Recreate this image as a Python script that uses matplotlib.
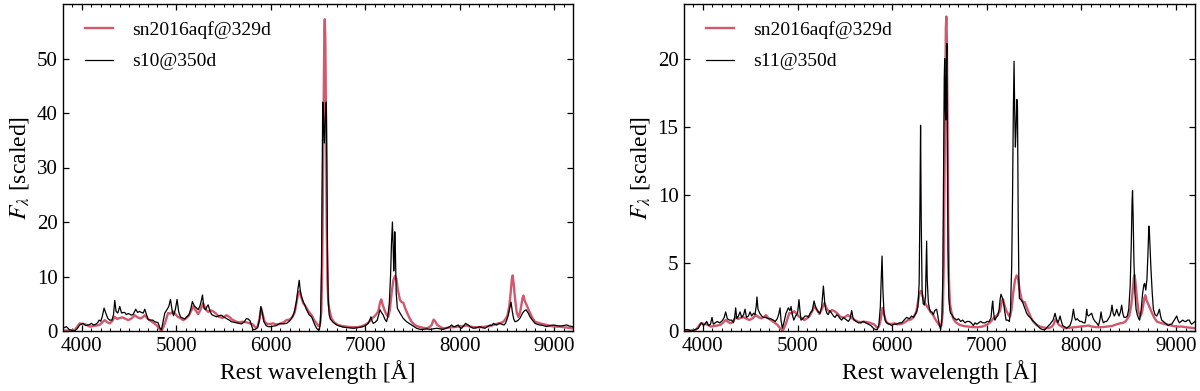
import matplotlib
matplotlib.use("Agg")
import matplotlib.pyplot as plt
from matplotlib.ticker import MultipleLocator

plt.rcParams['font.family'] = ['Liberation Serif', 'DejaVu Serif']
plt.rcParams['mathtext.fontset'] = 'stix'

# ---- observed spectrum sn2016aqf @ 329 d (scaled as in left panel) ----
obs_wave = [3800,3830,3870,3925,3960,3977,4010,4040,4083,4120,4153,4185,4210,4242,4270,4295,4320,4348,4375,4401,
            4430,4454,4490,4525,4560,4590,4620,4650,4666,4690,4715,4750,4789,4815,4842,4860,4880,4913,4940,4966,
            4990,5015,5040,5072,5100,5130,5155,5178,5205,5231,5255,5284,5310,5337,5365,5390,5420,5450,5490,5531,
            5560,5590,5615,5637,5665,5700,5740,5778,5810,5840,5860,5880,5898,5915,5935,5960,6000,6025,6060,6100,
            6135,6167,6200,6230,6255,6275,6290,6305,6320,6343,6365,6379,6405,6432,6460,6485,6505,6520,6535,6545,
            6553,6561,6567,6572,6578,6585,6592,6600,6610,6625,6644,6670,6714,6760,6802,6850,6908,6950,6997,7030,
            7057,7075,7092,7115,7138,7158,7170,7185,7209,7230,7244,7260,7279,7298,7315,7330,7345,7368,7385,7403,
            7420,7438,7465,7491,7525,7562,7610,7650,7680,7703,7725,7740,7763,7800,7827,7880,7933,7980,8039,8075,
            8109,8160,8215,8270,8321,8370,8410,8440,8463,8485,8505,8525,8540,8553,8561,8570,8586,8603,8621,8638,
            8652,8665,8675,8688,8703,8722,8745,8770,8798,8851,8922,8970,9010,9060,9098,9150,9200]
obs_flux = [0.0,0.1,0.1,0.2,1.0,1.4,1.3,1.2,0.8,0.9,1.0,1.1,1.5,2.0,1.6,1.4,1.8,2.6,2.2,2.4,
            2.5,2.3,2.0,2.3,2.9,2.5,2.3,2.6,2.9,2.4,2.0,1.6,1.1,0.5,0.0,0.6,1.5,3.3,3.2,3.6,
            3.1,2.6,2.4,2.0,2.3,2.8,3.6,4.5,3.8,3.1,3.9,5.1,4.0,3.5,3.8,3.6,3.2,2.6,2.4,2.9,
            2.6,2.1,1.9,1.7,1.6,1.7,1.6,1.4,1.2,0.6,0.8,2.2,4.2,3.0,1.7,1.3,1.3,1.4,1.2,1.3,
            1.6,2.0,2.1,2.6,3.5,5.5,6.9,7.3,6.4,5.1,4.6,4.2,3.5,2.9,2.0,1.4,0.9,1.0,3.5,12.0,
            28.0,46.0,55.0,57.2,53.0,38.0,20.0,9.0,5.0,3.5,2.3,1.6,1.1,0.9,0.8,0.7,0.7,0.8,1.1,1.5,
            2.0,2.4,2.6,3.0,3.6,5.3,5.8,4.8,3.6,2.9,2.6,3.8,6.9,9.3,10.1,9.6,7.6,5.7,5.3,5.2,
            4.3,3.6,2.5,1.7,1.1,0.8,0.6,0.5,0.7,1.1,2.1,1.8,1.1,0.7,0.5,0.6,0.7,0.8,0.9,1.0,
            0.8,0.7,0.7,0.8,0.9,1.2,1.4,1.5,1.7,2.2,2.8,4.5,7.0,9.6,10.2,9.0,6.0,3.5,2.6,3.3,
            4.6,6.0,6.5,5.6,5.0,4.2,3.3,2.4,1.7,1.4,1.1,0.9,0.8,0.8,0.7,0.6,0.5]
obs_scale_left = 1.0
obs_scale_right = 0.4035

# ---- model s10 @ 350 d ----
s10_wave = [3800,3836,3871,3924,3950,3977,4000,4012,4040,4065,4085,4100,4125,4153,4170,4182,4200,4215,4235,4255,
            4275,4295,4318,4335,4348,4362,4380,4401,4420,4440,4454,4470,4490,4505,4524,4545,4570,4590,4610,4630,
            4650,4666,4685,4701,4730,4750,4772,4795,4807,4825,4842,4860,4878,4900,4920,4938,4955,4970,4990,5008,
            5025,5044,5065,5090,5110,5135,5155,5170,5190,5210,5231,5250,5265,5277,5292,5310,5325,5337,5355,5375,
            5400,5425,5450,5478,5500,5530,5560,5584,5610,5640,5665,5690,5715,5743,5760,5780,5800,5813,5835,5860,
            5880,5895,5910,5925,5950,5972,6000,6030,6060,6096,6130,6167,6195,6220,6240,6255,6272,6290,6301,6312,
            6325,6343,6360,6379,6405,6432,6450,6467,6485,6502,6515,6527,6537,6545,6550,6556,6562,6568,6575,6582,
            6588,6594,6600,6608,6618,6630,6660,6697,6730,6767,6820,6873,6920,6979,7010,7032,7048,7060,7072,7085,
            7105,7127,7145,7156,7172,7191,7210,7226,7240,7255,7268,7278,7288,7295,7302,7308,7313,7320,7328,7340,
            7368,7385,7403,7438,7465,7491,7520,7544,7580,7615,7650,7685,7720,7756,7790,7827,7870,7895,7915,7935,
            7950,7970,7986,8005,8021,8045,8063,8080,8092,8120,8145,8180,8215,8240,8268,8295,8321,8340,8357,8375,
            8392,8410,8427,8450,8470,8485,8498,8515,8530,8544,8558,8572,8586,8605,8621,8640,8655,8667,8685,8703,
            8725,8745,8770,8798,8825,8851,8885,8922,8955,8992,9030,9063,9100,9134,9165,9197]
s10_flux = [0.5,0.8,0.2,0.0,0.4,1.1,1.3,1.4,1.0,1.1,1.2,1.4,1.1,1.3,1.6,2.0,1.8,2.6,4.2,3.2,
            2.3,2.0,2.0,3.0,5.6,3.6,3.3,4.5,3.3,3.4,3.4,3.0,3.2,3.1,2.9,3.1,4.0,3.4,3.6,3.4,
            3.3,4.0,3.0,2.1,2.0,2.0,1.7,1.6,1.5,0.6,0.2,1.8,3.3,3.9,4.5,5.8,3.8,2.8,4.0,5.8,
            3.5,2.6,2.4,2.2,2.6,3.0,4.2,5.4,4.6,4.3,3.9,4.6,5.6,6.6,4.2,3.9,4.5,4.8,3.7,3.0,
            2.8,2.6,2.8,2.9,2.6,2.3,2.0,1.7,1.6,1.5,1.4,1.3,1.6,2.3,2.2,1.9,0.8,0.2,0.3,0.6,
            2.0,4.5,3.4,1.8,1.0,0.8,0.8,0.9,1.0,1.4,1.3,1.4,1.8,2.3,3.0,3.9,5.5,8.0,9.3,7.5,
            6.3,5.4,4.8,3.9,3.0,2.6,1.8,1.1,0.5,0.2,0.2,2.0,12.0,32.0,42.0,41.0,36.0,34.5,38.0,41.5,
            42.0,30.0,15.0,6.0,3.0,2.2,1.6,1.1,0.9,0.7,0.6,0.5,0.6,0.8,1.1,1.4,2.0,2.6,1.8,1.4,
            1.6,2.0,3.1,3.9,3.4,2.9,2.1,1.7,2.8,5.1,10.0,16.0,20.0,16.0,11.0,14.0,18.2,14.0,7.0,4.2,
            3.3,2.8,2.3,1.7,1.4,1.1,0.8,0.5,0.3,0.3,0.4,0.3,0.4,0.5,0.4,0.3,0.6,0.8,1.1,0.8,
            0.8,1.0,1.1,0.6,0.5,1.0,1.4,1.2,1.1,0.7,0.5,0.6,0.8,0.6,0.5,0.8,1.1,1.0,1.4,1.2,
            1.1,1.3,1.4,1.2,1.1,1.4,2.0,2.9,4.2,5.3,3.5,2.2,1.7,1.8,2.0,2.4,2.9,3.3,3.7,3.9,
            3.3,2.6,2.0,1.4,1.2,1.1,1.0,0.8,1.0,1.1,1.0,0.9,1.0,1.1,0.9,0.8]

# ---- model s11 @ 350 d ----
s11_wave = [3800,3840,3881,3951,3975,3987,4005,4020,4040,4060,4080,4096,4110,4130,4152,4175,4195,4209,4225,4240,
            4258,4280,4304,4322,4335,4346,4358,4375,4392,4410,4430,4445,4460,4480,4498,4515,4535,4550,4563,4571,
            4582,4600,4621,4640,4660,4691,4715,4744,4765,4785,4800,4815,4825,4839,4855,4878,4903,4920,4931,4945,
            4960,4980,5000,5015,5028,5036,5055,5079,5100,5115,5132,5155,5174,5190,5202,5220,5237,5255,5273,5288,
            5297,5310,5325,5342,5361,5380,5396,5415,5431,5450,5466,5485,5500,5520,5537,5555,5572,5585,5600,5620,
            5643,5670,5695,5720,5748,5775,5801,5825,5843,5860,5875,5885,5893,5902,5914,5925,5942,5970,5995,6020,
            6048,6075,6100,6125,6153,6180,6206,6225,6241,6258,6272,6285,6293,6300,6307,6316,6328,6340,6352,6358,
            6364,6370,6382,6395,6407,6420,6435,6450,6470,6480,6490,6500,6512,6525,6535,6543,6550,6555,6560,6566,
            6572,6578,6584,6590,6598,6610,6618,6630,6646,6665,6682,6700,6724,6745,6770,6790,6815,6835,6858,6875,
            6893,6915,6935,6958,6981,7005,7027,7045,7055,7062,7070,7080,7087,7100,7115,7130,7142,7150,7160,7175,
            7188,7203,7220,7238,7250,7263,7272,7280,7288,7295,7302,7310,7317,7324,7331,7338,7344,7360,7379,7400,
            7421,7440,7457,7480,7509,7535,7562,7590,7615,7640,7668,7700,7721,7735,7749,7762,7774,7788,7802,7825,
            7844,7860,7879,7898,7915,7928,7939,7955,7967,7985,8003,8020,8038,8048,8055,8063,8073,8090,8108,8125,
            8144,8160,8179,8195,8207,8218,8232,8250,8267,8285,8302,8315,8323,8335,8348,8360,8373,8385,8397,8412,
            8425,8437,8450,8468,8485,8500,8515,8527,8535,8540,8546,8555,8565,8577,8590,8605,8615,8630,8647,8660,
            8668,8680,8692,8702,8712,8718,8726,8735,8748,8760,8778,8795,8810,8824,8836,8848,8865,8883,8900,8919,
            8937,8954,8972,8990,9007,9020,9035,9052,9070,9088,9105,9122,9140,9152,9165,9182,9200]
s11_flux = [0.1,0.1,0.0,0.2,0.5,0.6,0.4,0.5,0.7,0.4,0.5,1.0,0.5,0.6,0.7,0.6,0.7,0.8,1.0,1.4,
            0.9,0.8,0.8,0.6,1.0,1.7,0.9,1.1,1.4,1.0,1.2,1.6,1.0,1.1,1.4,1.1,1.3,1.2,1.8,2.5,
            1.6,1.3,1.1,1.0,1.0,0.9,0.9,0.8,0.7,0.9,1.2,1.7,0.8,0.2,0.6,1.3,1.7,1.5,1.8,1.2,
            0.8,1.1,1.3,2.3,1.3,0.8,0.9,1.1,1.1,1.0,1.3,1.5,2.2,1.8,1.6,1.4,1.3,1.8,3.3,2.0,
            1.6,1.3,1.2,1.5,1.3,1.1,1.0,1.2,1.1,0.9,0.8,1.0,0.9,0.8,0.7,0.9,1.5,1.0,0.8,0.7,
            0.6,0.6,0.7,0.6,0.5,0.4,0.2,0.1,0.1,0.5,1.8,4.0,5.5,3.0,1.3,0.8,0.6,0.5,0.4,0.5,
            0.5,0.6,0.6,0.8,1.0,0.9,1.1,1.0,1.2,1.4,1.8,3.5,9.0,15.1,8.0,3.0,2.0,1.9,2.5,4.5,
            6.6,3.8,2.1,1.6,1.4,1.4,1.2,1.5,1.6,1.2,0.8,0.4,0.1,0.8,4.0,12.0,18.5,20.0,16.5,15.5,
            19.0,21.1,14.0,6.0,2.5,1.5,1.3,1.2,1.0,0.9,0.8,0.9,0.7,0.8,0.6,0.7,0.7,0.6,0.4,0.6,
            0.5,0.6,0.7,0.6,0.6,0.7,0.7,1.0,1.8,2.2,1.5,0.9,0.8,1.0,1.1,1.6,2.4,2.7,2.5,2.2,
            1.5,0.8,0.8,0.7,1.5,4.8,10.0,16.0,19.8,16.0,13.5,15.0,17.0,16.5,9.0,4.0,2.4,2.3,2.1,1.7,
            1.3,1.1,1.0,0.8,0.6,0.4,0.2,0.1,0.1,0.3,0.5,0.8,1.3,0.9,0.6,0.8,1.1,0.7,0.4,0.3,
            0.2,0.3,0.4,0.8,1.6,1.0,0.8,0.9,0.8,0.7,0.7,0.6,0.6,1.0,1.6,1.2,1.1,1.2,1.3,0.9,
            0.7,0.6,0.4,0.8,1.4,0.9,0.6,0.7,0.7,0.9,1.1,1.5,1.9,1.3,1.1,1.3,1.6,1.3,1.1,1.4,
            1.9,1.3,1.0,1.0,1.1,1.6,3.3,6.5,9.5,10.3,8.5,5.0,2.8,1.6,1.2,0.9,0.8,1.5,2.8,3.4,
            3.5,3.0,3.8,5.5,7.7,7.3,6.0,4.5,2.8,1.6,1.2,1.1,1.3,1.6,1.1,0.8,0.7,0.6,0.5,0.4,
            0.5,0.5,0.7,0.9,1.1,0.8,0.6,0.7,0.8,0.7,0.7,0.8,0.8,0.6,0.5,0.6,0.7]

obs_label = 'sn2016aqf@329d'
model_labels = ['s10@350d', 's11@350d']
x_ticks = [4000, 5000, 6000, 7000, 8000, 9000]
y_ticks_left = [0, 10, 20, 30, 40, 50]
y_ticks_right = [0, 5, 10, 15, 20]

red = '#d2586d'

fig = plt.figure(figsize=(12, 3.91), dpi=100)
ax1 = fig.add_axes([63/1200, 1-331/391, 510/1200, 327/391])
ax2 = fig.add_axes([684/1200, 1-331/391, 511/1200, 327/391])

panels = [
    (ax1, obs_scale_left, s10_wave, s10_flux, model_labels[0], y_ticks_left, 60.0),
    (ax2, obs_scale_right, s11_wave, s11_flux, model_labels[1], y_ticks_right, 24.0),
]

for ax, sc, mw, mf, ml, yt, ytop in panels:
    ax.plot(obs_wave, [v * sc for v in obs_flux], color=red, lw=1.7, label=obs_label, zorder=2)
    ax.plot(mw, mf, color='black', lw=0.9, label=ml, zorder=3)
    ax.set_xlim(3800, 9200)
    ax.set_ylim(0, ytop)
    ax.set_xticks(x_ticks)
    ax.set_yticks(yt)
    ax.xaxis.set_minor_locator(MultipleLocator(100))
    ax.tick_params(which='both', direction='in', top=True, right=True, labelsize=15)
    ax.tick_params(which='major', length=4, width=0.9, pad=4)
    ax.tick_params(which='minor', length=2.2, width=0.7)
    ax.tick_params(axis='y', which='minor', left=False, right=False)
    for sp in ax.spines.values():
        sp.set_linewidth(1.0)
    ax.set_xlabel('Rest wavelength [Å]', fontsize=17, labelpad=3)
    ax.set_ylabel(r'$F_\lambda$ [scaled]', fontsize=17, labelpad=4)
    leg = ax.legend(loc='upper left', bbox_to_anchor=(0.043, 0.948), frameon=False,
                    fontsize=14, handlelength=1.45, handletextpad=1.0,
                    labelspacing=0.72, borderpad=0, borderaxespad=0)

fig.savefig('out.png', dpi=100)
